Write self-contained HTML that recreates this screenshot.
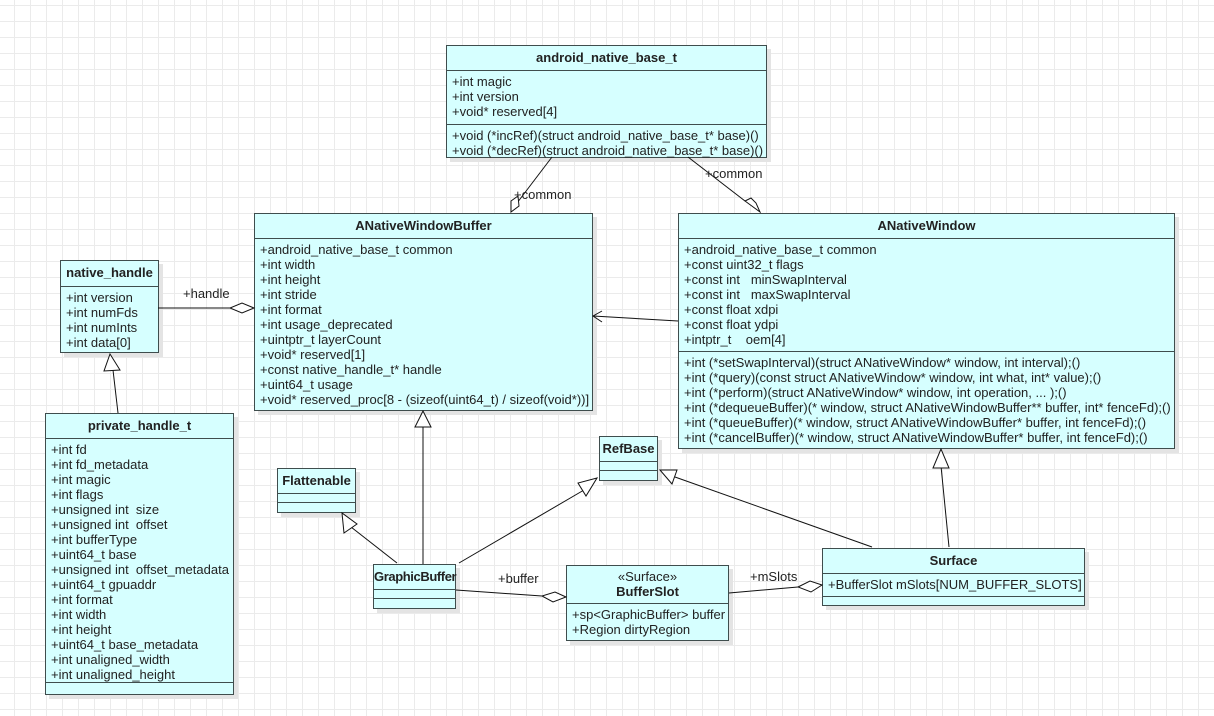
<!DOCTYPE html>
<html><head><meta charset="utf-8"><style>
body{margin:0;width:1214px;height:716px;overflow:hidden;position:relative;background:#fff;
background-image:linear-gradient(#ebebeb 1px,transparent 1px),linear-gradient(90deg,#ebebeb 1px,transparent 1px);
background-size:16px 16px;background-position:14px 5px;font-family:"Liberation Sans",sans-serif;font-size:13px;color:#222}
.b{position:absolute;background:#d6ffff;border:1px solid #3f4d4d;box-shadow:4px 4px 0 #e4e4e4;box-sizing:border-box}
.h{font-weight:bold;text-align:center;border-bottom:1px solid #3f4d4d;box-sizing:border-box;padding-top:4px}
.s{border-bottom:1px solid #3f4d4d;box-sizing:border-box;padding:3px 0 0 5px;line-height:15px;white-space:nowrap}
.s:last-child{border-bottom:none}
svg{position:absolute;left:0;top:0}
.l{position:absolute;white-space:nowrap}
</style></head><body>

<div class="b" style="left:446px;top:45px;width:321px;height:113px">
<div class="h" style="height:25px">android_native_base_t</div>
<div class="s" style="height:54px">+int magic<br>+int version<br>+void* reserved[4]</div>
<div class="s" style="height:32px">+void (*incRef)(struct android_native_base_t* base)()<br>+void (*decRef)(struct android_native_base_t* base)()</div>
</div>

<div class="b" style="left:254px;top:213px;width:339px;height:198px">
<div class="h" style="height:25px">ANativeWindowBuffer</div>
<div class="s" style="height:171px">+android_native_base_t common<br>+int width<br>+int height<br>+int stride<br>+int format<br>+int usage_deprecated<br>+uintptr_t layerCount<br>+void* reserved[1]<br>+const native_handle_t* handle<br>+uint64_t usage<br>+void* reserved_proc[8 - (sizeof(uint64_t) / sizeof(void*))]</div>
</div>

<div class="b" style="left:678px;top:213px;width:497px;height:236px">
<div class="h" style="height:25px">ANativeWindow</div>
<div class="s" style="height:113px">+android_native_base_t common<br>+const uint32_t flags<br>+const int &nbsp; minSwapInterval<br>+const int &nbsp; maxSwapInterval<br>+const float xdpi<br>+const float ydpi<br>+intptr_t &nbsp;&nbsp; oem[4]</div>
<div class="s" style="height:96px">+int (*setSwapInterval)(struct ANativeWindow* window, int interval);()<br>+int (*query)(const struct ANativeWindow* window, int what, int* value);()<br>+int (*perform)(struct ANativeWindow* window, int operation, ... );()<br>+int (*dequeueBuffer)(* window, struct ANativeWindowBuffer** buffer, int* fenceFd);()<br>+int (*queueBuffer)(* window, struct ANativeWindowBuffer* buffer, int fenceFd);()<br>+int (*cancelBuffer)(* window, struct ANativeWindowBuffer* buffer, int fenceFd);()</div>
</div>

<div class="b" style="left:60px;top:260px;width:99px;height:93px">
<div class="h" style="height:26px">native_handle</div>
<div class="s" style="height:65px">+int version<br>+int numFds<br>+int numInts<br>+int data[0]</div>
</div>

<div class="b" style="left:45px;top:413px;width:189px;height:282px">
<div class="h" style="height:25px">private_handle_t</div>
<div class="s" style="height:244px">+int fd<br>+int fd_metadata<br>+int magic<br>+int flags<br>+unsigned int &nbsp;size<br>+unsigned int &nbsp;offset<br>+int bufferType<br>+uint64_t base<br>+unsigned int &nbsp;offset_metadata<br>+uint64_t gpuaddr<br>+int format<br>+int width<br>+int height<br>+uint64_t base_metadata<br>+int unaligned_width<br>+int unaligned_height</div>
<div class="s" style="height:10px"></div>
</div>

<div class="b" style="left:277px;top:468px;width:79px;height:45px">
<div class="h" style="height:25px">Flattenable</div>
<div class="s" style="height:9px;padding:0"></div>
<div class="s" style="height:9px;padding:0"></div>
</div>

<div class="b" style="left:599px;top:436px;width:59px;height:45px">
<div class="h" style="height:25px">RefBase</div>
<div class="s" style="height:9px;padding:0"></div>
<div class="s" style="height:9px;padding:0"></div>
</div>

<div class="b" style="left:373px;top:564px;width:83px;height:45px">
<div class="h" style="height:25px;letter-spacing:-0.4px">GraphicBuffer</div>
<div class="s" style="height:9px;padding:0"></div>
<div class="s" style="height:9px;padding:0"></div>
</div>

<div class="b" style="left:566px;top:565px;width:163px;height:76px">
<div class="h" style="height:38px;padding-top:3px;line-height:15px"><span style="font-weight:normal">«Surface»</span><br>BufferSlot</div>
<div class="s" style="height:36px">+sp&lt;GraphicBuffer&gt; buffer<br>+Region dirtyRegion</div>
</div>

<div class="b" style="left:822px;top:548px;width:263px;height:58px">
<div class="h" style="height:25px">Surface</div>
<div class="s" style="height:23px">+BufferSlot mSlots[NUM_BUFFER_SLOTS]</div>
<div class="s" style="height:8px;padding:0"></div>
</div>

<svg width="1214" height="716" fill="none" stroke="#111" stroke-width="1">
<line x1="552" y1="157" x2="517" y2="203"/>
<polygon points="511,212 511,201 518,196 519,206" fill="#fff"/>
<line x1="688" y1="157" x2="745" y2="201"/>
<polygon points="760,212 745,201 751,198 756,203" fill="#fff"/>
<line x1="158" y1="308" x2="230" y2="308"/>
<polygon points="254,308 242,303 230,308 242,313" fill="#fff"/>
<line x1="118" y1="413" x2="113" y2="370"/>
<polygon points="110,354 104,371 120,370" fill="#fff"/>
<line x1="678" y1="321" x2="593" y2="316"/>
<polyline points="602,311 593,316 602,322"/>
<line x1="423" y1="564" x2="423" y2="427"/>
<polygon points="423,411 415,427 431,427" fill="#fff"/>
<line x1="397" y1="563" x2="351" y2="527"/>
<polygon points="342,513 344,533 357,524" fill="#fff"/>
<line x1="459" y1="563" x2="584" y2="490"/>
<polygon points="597,478 578,483 586,496" fill="#fff"/>
<line x1="872" y1="547" x2="675" y2="477"/>
<polygon points="660,470 672,484 677,470" fill="#fff"/>
<line x1="949" y1="547" x2="941" y2="466"/>
<polygon points="941,449 933,468 949,468" fill="#fff"/>
<line x1="456" y1="590" x2="542" y2="596"/>
<polygon points="566,597 555,592 542,596 553,602" fill="#fff"/>
<line x1="729" y1="593" x2="798" y2="587"/>
<polygon points="822,585 810,581 798,587 811,592" fill="#fff"/>
</svg>

<div class="l" style="left:514px;top:187px">+common</div>
<div class="l" style="left:705px;top:166px">+common</div>
<div class="l" style="left:183px;top:286px">+handle</div>
<div class="l" style="left:498px;top:571px">+buffer</div>
<div class="l" style="left:750px;top:569px">+mSlots</div>
</body></html>
